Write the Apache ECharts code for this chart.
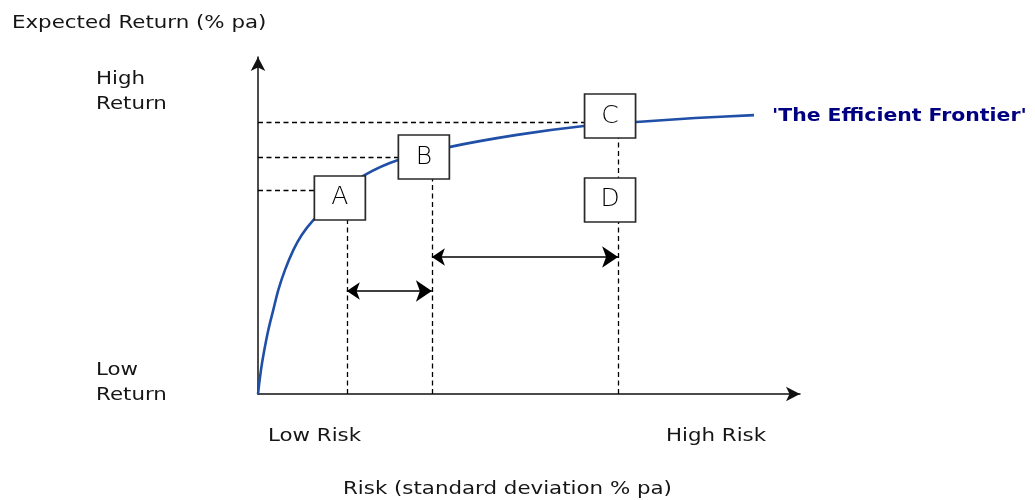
<!DOCTYPE html>
<html>
<head>
<meta charset="utf-8">
<script src="https://cdn.jsdelivr.net/npm/echarts@6/dist/echarts.min.js"></script>
<style>html,body{margin:0;padding:0;background:#fff}#c{width:1035px;height:500px}</style>
</head>
<body>
<div id="c"></div>
<script>
// Efficient frontier curve (risk, return) in arbitrary units
const frontierRisk   = [0, 0.56, 1.18, 1.93, 2.86, 3.79, 5.05, 6.60, 8.17, 10.34, 15.3, 20.0, 26.2, 35.7, 48.4, 60.9, 70.7, 81.7, 92.7];
const frontierReturn = [0, 7.3, 13.3, 19.4, 25.5, 31.5, 37.6, 43.6, 48.2, 52.7, 60.9, 66.4, 70.9, 74.8, 78.5, 81.2, 82.4, 83.6, 84.5];

// Portfolio boxes
const portfolioNames  = ['A', 'B', 'C', 'D'];
const portfolioRisk   = [15.3, 31.0, 65.8, 65.8];
const portfolioReturn = [59.4, 71.8, 84.2, 58.8];

// Dashed guide lines
const guideRisk      = [16.6, 32.5, 67.3];   // vertical guides (risk levels)
const guideRiskTop   = [59.4, 71.8, 84.2];
const guideReturn    = [61.8, 71.8, 82.4];   // horizontal guides (return levels)
const guideReturnEnd = [15.3, 31.0, 65.8];

// Double-headed arrows between risk levels
const arrowLevel = [31.2, 41.5];
const arrowFrom  = [16.6, 32.5];
const arrowTo    = [32.5, 67.3];

const chart = echarts.init(document.getElementById('c'), null, {renderer: 'canvas'});

const dashData = [];
guideRisk.forEach((x, i) => dashData.push({coords: [[x, 0], [x, guideRiskTop[i]]]}));
guideReturn.forEach((y, i) => dashData.push({coords: [[0, y], [guideReturnEnd[i], y]]}));

const arrowData = arrowLevel.map((y, i) => ({coords: [[arrowFrom[i], y], [arrowTo[i], y]]}));

const FONT = 'DejaVu Sans';
function txt(x, y, text, opts) {
  opts = opts || {};
  return {
    type: 'text', x: x, y: y, scaleX: opts.scaleX || 1.22, z: 100,
    style: {
      text: text, x: 0, y: 0,
      fill: opts.color || '#151515',
      font: (opts.weight || 'normal') + ' ' + (opts.size || 17.5) + 'px "' + FONT + '"',
      textAlign: 'left', textVerticalAlign: 'middle',
      lineHeight: opts.lineHeight || 24.5
    }
  };
}

chart.setOption({
  animation: false,
  backgroundColor: '#fff',
  grid: {left: 258, right: 235, top: 57, bottom: 106},
  xAxis: {
    type: 'value', min: 0, max: 101.3,
    axisLine: {show: true, symbol: ['none', 'arrow'], symbolSize: [11, 14], lineStyle: {color: '#111', width: 1.5}},
    axisTick: {show: false}, axisLabel: {show: false}, splitLine: {show: false}
  },
  yAxis: {
    type: 'value', min: 0, max: 102.1,
    axisLine: {show: true, symbol: ['none', 'arrow'], symbolSize: [11, 14], lineStyle: {color: '#111', width: 1.5}},
    axisTick: {show: false}, axisLabel: {show: false}, splitLine: {show: false}
  },
  series: [
    {
      type: 'lines', coordinateSystem: 'cartesian2d', z: 1,
      lineStyle: {color: '#000', width: 1.3, type: [5, 3.5], opacity: 1},
      symbol: ['none', 'none'],
      data: dashData, silent: true
    },
    {
      type: 'lines', coordinateSystem: 'cartesian2d', z: 2,
      lineStyle: {color: '#000', width: 1.6, opacity: 1},
      symbol: ['arrow', 'arrow'], symbolSize: [13, 16],
      data: arrowData, silent: true
    },
    {
      type: 'line', z: 3, smooth: 0.3, symbol: 'none',
      lineStyle: {color: '#1f4fa6', width: 2.6},
      data: frontierRisk.map((x, i) => [x, frontierReturn[i]]),
      silent: true
    },
    {
      type: 'scatter', z: 5, symbol: 'rect', symbolSize: [51, 44],
      itemStyle: {color: '#fff', borderColor: '#2a2a2a', borderWidth: 1.6, opacity: 1},
      label: {show: true, position: 'inside', formatter: p => p.name, color: '#000', fontSize: 25, fontFamily: FONT, fontWeight: 200},
      data: portfolioNames.map((n, i) => ({name: n, value: [portfolioRisk[i], portfolioReturn[i]]})),
      silent: true
    }
  ],
  graphic: [
    txt(12, 23, 'Expected Return (% pa)'),
    txt(96, 92, 'High\nReturn'),
    txt(96, 383, 'Low\nReturn'),
    txt(268, 436, 'Low Risk'),
    txt(666, 436, 'High Risk'),
    txt(343, 489, 'Risk (standard deviation % pa)'),
    txt(772, 117, "'The Efficient Frontier'", {weight: 'bold', size: 17, color: '#000080', scaleX: 1.2})
  ]
});
</script>
</body>
</html>
